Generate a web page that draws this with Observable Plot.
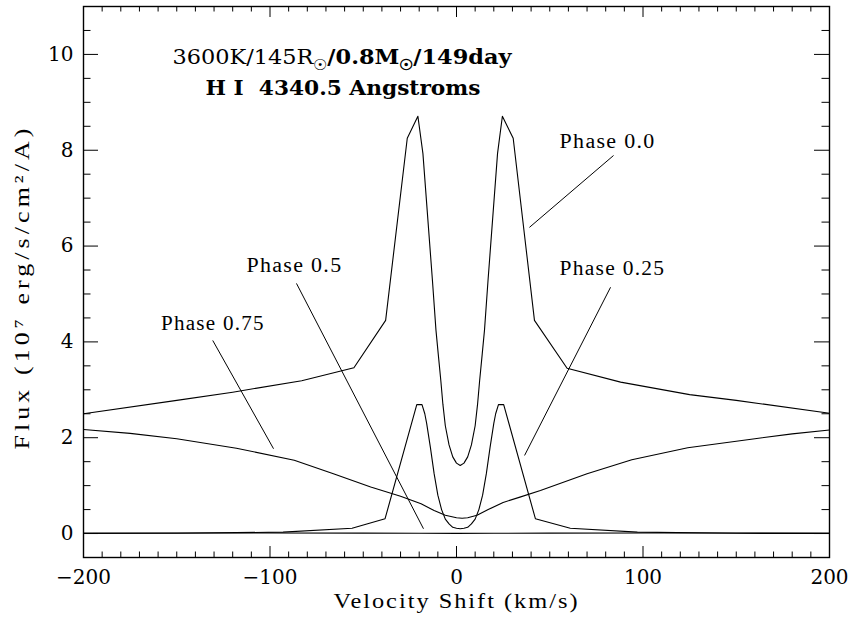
<!DOCTYPE html>
<html>
<head>
<meta charset="utf-8">
<script src="https://cdn.jsdelivr.net/npm/d3@7"></script>
<script src="https://cdn.jsdelivr.net/npm/@observablehq/plot@0.6"></script>
<style>
  html, body { margin: 0; padding: 0; background: #fff; }
  svg text { white-space: pre; }
</style>
</head>
<body>
<div id="chart"></div>
<script>
// H I 4340.5 line profiles: velocity shift (km/s) vs flux (1e7 erg/s/cm^2/A)
const v00 = [-200, -150, -120, -83, -55, -38, -26.4, -20.7, -18, -12.9, -11, -9.8, -8.4, -7.3, -6, -4, -2, 0, 2, 4, 6, 8, 10, 11.3, 12.4, 13.8, 15, 16.9, 22, 24.6, 30.4, 41.8, 59.3, 88, 125, 150, 200];
const f00 = [2.5, 2.78, 2.95, 3.19, 3.46, 4.45, 8.25, 8.71, 7.93, 5.28, 4.24, 3.75, 3.19, 2.7, 2.25, 1.85, 1.6, 1.47, 1.42, 1.47, 1.6, 1.85, 2.25, 2.7, 3.19, 3.75, 4.24, 5.28, 7.93, 8.71, 8.25, 4.45, 3.45, 3.16, 2.9, 2.78, 2.51];

const v25 = [-200, -150, -93, -56, -38.3, -21.3, -18.5, -17, -16, -14, -12, -10, -8, -6, -4, -2, 0, 2, 4, 6, 8, 10, 12, 14, 16, 18, 20, 21, 22.5, 25.3, 42.3, 61, 97, 150, 200];
const f25 = [0.0, 0.005, 0.03, 0.11, 0.31, 2.69, 2.69, 2.5, 2.3, 1.8, 1.25, 0.8, 0.5, 0.3, 0.2, 0.13, 0.11, 0.1, 0.11, 0.13, 0.2, 0.3, 0.5, 0.8, 1.25, 1.8, 2.3, 2.5, 2.69, 2.69, 0.31, 0.11, 0.03, 0.005, 0.0];

const v50 = [-200, -100, -50, -20, 0, 20, 50, 100, 200];
const f50 = [0.012, 0.01, 0.008, 0.005, 0.003, 0.005, 0.008, 0.01, 0.012];

const v75 = [-200, -175, -150, -118, -87, -66, -46, -30, -19, -12, -6, 0, 3, 6, 11, 17, 25, 34, 45, 70, 94, 124, 160, 180, 200];
const f75 = [2.17, 2.09, 1.98, 1.78, 1.53, 1.25, 0.97, 0.78, 0.62, 0.48, 0.38, 0.33, 0.32, 0.33, 0.38, 0.5, 0.65, 0.76, 0.9, 1.25, 1.54, 1.79, 1.98, 2.08, 2.16];

// Curve labels and their pointer lines
const phaseNames = ["Phase 0.0", "Phase 0.25", "Phase 0.5", "Phase 0.75"];
const labelV = [81, 83.6, -86.9, -130.6];
const labelF = [8.18, 5.53, 5.6, 4.39];
const pointerV1 = [84.2, 82.6, -85.8, -130.7];
const pointerF1 = [7.89, 5.14, 5.22, 4.03];
const pointerV2 = [39.1, 36.5, -17.7, -98.1];
const pointerF2 = [6.39, 1.63, 0.10, 1.77];

// Axes
const xMajor = [-200, -100, 0, 100, 200];
const yMajor = [0, 2, 4, 6, 8, 10];
const xDomain = [-200, 200];
const yDomain = [-0.5, 11];

const title1 = "3600K/145R☉/0.8M☉/149day";
const title2 = "H I  4340.5 Angstroms";
const xTitle = "Velocity Shift (km/s)";
const yTitle = "Flux (10⁷ erg/s/cm²/A)";

// Layout
const W = 853, H = 625;
const mTop = 6, mRight = 24, mBottom = 68, mLeft = 83;
const pxPerX = (W - mLeft - mRight) / (xDomain[1] - xDomain[0]);
const pxPerY = (H - mTop - mBottom) / (yDomain[1] - yDomain[0]);

// Inward tick marks (lengths in pixels, converted to data units)
const xMinor = d3.range(xDomain[0], xDomain[1] + 1, 10).filter(d => !xMajor.includes(d));
const yMinor = d3.range(yDomain[0], yDomain[1] + 0.01, 0.5).filter(d => !yMajor.includes(d));
const xTickMaj = 11 / pxPerY, xTickMin = 5.5 / pxPerY;
const yTickMaj = 15 / pxPerX, yTickMin = 7.5 / pxPerX;

const rows = (v, f) => v.map((x, i) => ({v: x, f: f[i]}));
const curves = [rows(v00, f00), rows(v25, f25), rows(v50, f50), rows(v75, f75)];
const idx = phaseNames.map((_, i) => i);

const serifLight = "'Liberation Serif', 'Times New Roman', serif";

const tickMarks = [
  Plot.ruleX(xMajor, {x: d => d, y1: yDomain[0], y2: yDomain[0] + xTickMaj, stroke: "#000"}),
  Plot.ruleX(xMinor, {x: d => d, y1: yDomain[0], y2: yDomain[0] + xTickMin, stroke: "#000"}),
  Plot.ruleX(xMajor, {x: d => d, y1: yDomain[1], y2: yDomain[1] - xTickMaj, stroke: "#000"}),
  Plot.ruleX(xMinor, {x: d => d, y1: yDomain[1], y2: yDomain[1] - xTickMin, stroke: "#000"}),
  Plot.ruleY(yMajor, {y: d => d, x1: xDomain[0], x2: xDomain[0] + yTickMaj, stroke: "#000"}),
  Plot.ruleY(yMinor, {y: d => d, x1: xDomain[0], x2: xDomain[0] + yTickMin, stroke: "#000"}),
  Plot.ruleY(yMajor, {y: d => d, x1: xDomain[1], x2: xDomain[1] - yTickMaj, stroke: "#000"}),
  Plot.ruleY(yMinor, {y: d => d, x1: xDomain[1], x2: xDomain[1] - yTickMin, stroke: "#000"})
];

const chart = Plot.plot({
  width: W,
  height: H,
  marginTop: mTop,
  marginRight: mRight,
  marginBottom: mBottom,
  marginLeft: mLeft,
  style: {fontFamily: "'DejaVu Serif', serif", fontSize: "20px", color: "#000", background: "#fff"},
  x: {domain: xDomain, label: null},
  y: {domain: yDomain, label: null},
  marks: [
    Plot.axisX({ticks: xMajor, tickSize: 0, tickPadding: 12, fontSize: 20, label: null, tickFormat: d => d < 0 ? "\u2212" + Math.abs(d) : String(d)}),
    Plot.axisY({ticks: yMajor, tickSize: 0, tickPadding: 10, fontSize: 20, label: null, tickFormat: d => String(d)}),
    ...tickMarks,
    ...curves.map(c => Plot.line(c, {x: "v", y: "f", stroke: "#000", strokeWidth: 1.1})),
    Plot.link(idx, {x1: i => pointerV1[i], y1: i => pointerF1[i], x2: i => pointerV2[i], y2: i => pointerF2[i], stroke: "#000", strokeWidth: 1}),
    Plot.text(idx, {x: i => labelV[i], y: i => labelF[i], text: i => phaseNames[i], fontSize: 20, fontFamily: serifLight, fill: "#000"}),
    Plot.text([title1], {x: -152.3, y: 9.94, text: d => d, textAnchor: "start", fontSize: 21, fill: "#000"}),
    Plot.text([title2], {x: -134.6, y: 9.29, text: d => d, textAnchor: "start", fontSize: 21, fontWeight: "bold", fill: "#000"}),
    Plot.text([xTitle], {frameAnchor: "bottom", dy: 50, text: d => d, fontSize: 22, fontFamily: serifLight, fill: "#000"}),
    Plot.text([yTitle], {frameAnchor: "left", textAnchor: "middle", dx: -62, dy: 5, rotate: -90, text: d => d, fontSize: 22, fontFamily: serifLight, fill: "#000"}),
    Plot.frame({stroke: "#000", strokeWidth: 1.4})
  ]
});

document.getElementById("chart").appendChild(chart);

// Text fitting (some letter spacing plus a slight stretch) and the
// sub-scripted solar symbols in the heading
const svg = d3.select(chart);
const fit = {
  [title1]: [339, 0], [title2]: [275, 0],
  [xTitle]: [246, 1.8], [yTitle]: [325, 3.5],
  "Phase 0.0": [96, 1.2], "Phase 0.25": [106, 1.2],
  "Phase 0.5": [96, 1.2], "Phase 0.75": [104, 1.2]
};
svg.selectAll("text").each(function () {
  const s = this.textContent;
  if (fit[s] !== undefined) {
    if (fit[s][1]) this.setAttribute("letter-spacing", fit[s][1]);
    this.setAttribute("textLength", fit[s][0]);
    this.setAttribute("lengthAdjust", "spacingAndGlyphs");
  }
});
svg.selectAll("text").filter(function () { return this.textContent === title1; }).each(function () {
  const t = d3.select(this);
  const segs = title1.split("☉");
  t.text(null);
  segs.forEach((seg, i) => {
    const bold = i > 0;
    t.append("tspan").attr("font-weight", bold ? "bold" : "normal").attr("dy", i > 0 ? "-0.28em" : null).text(seg);
    if (i < segs.length - 1) {
      t.append("tspan").attr("font-weight", bold ? "bold" : "normal")
        .attr("font-size", "0.7em").attr("dy", "0.4em").text("☉");
    }
  });
});
</script>
</body>
</html>
